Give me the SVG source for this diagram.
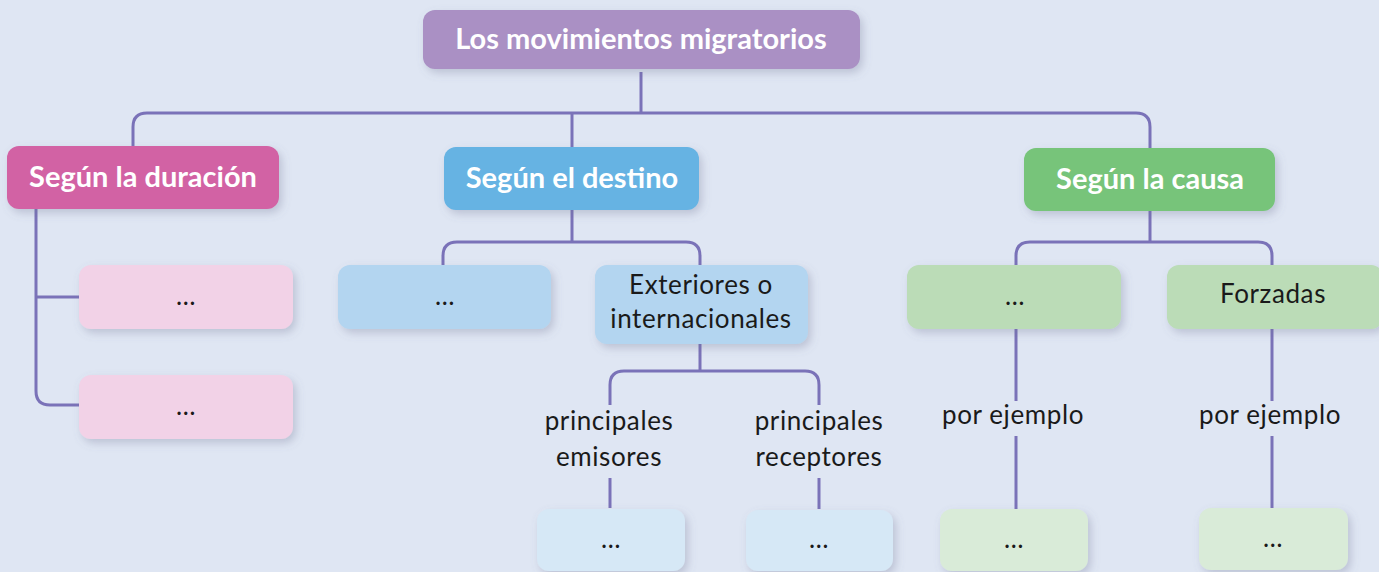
<svg xmlns="http://www.w3.org/2000/svg" width="1379" height="572" viewBox="0 0 1379 572">
<style>
.hd{font-family:Lato,"Open Sans",sans-serif;font-weight:bold;font-size:29px;fill:#ffffff;text-anchor:middle}
.tx{font-family:Lato,"Open Sans",sans-serif;font-size:26px;letter-spacing:0.6px;fill:#1a1a1a;text-anchor:middle}
.ln{fill:none;stroke:#7a72b8;stroke-width:3}
.sh{filter:url(#ds)}
</style>
<defs>
<filter id="ds" x="-20%" y="-30%" width="140%" height="170%">
<feDropShadow dx="3" dy="4" stdDeviation="4" flood-color="#6a7090" flood-opacity="0.3"/>
</filter>
</defs>
<rect width="1379" height="572" fill="#dfe6f3"/>
<g id="connectors">
<path class="ln" d="M641 72 V113"/>
<path class="ln" d="M133 146 V127 Q133 113 147 113 H1136 Q1150 113 1150 127 V149"/>
<path class="ln" d="M572 113 V147"/>
<path class="ln" d="M36 209 V391 Q36 405 50 405 H79"/>
<path class="ln" d="M36 297 H79"/>
<path class="ln" d="M572 210 V242"/>
<path class="ln" d="M443 265 V256 Q443 242 457 242 H686 Q700 242 700 256 V265"/>
<path class="ln" d="M700 344 V371"/>
<path class="ln" d="M610 405 V385 Q610 371 624 371 H805 Q819 371 819 385 V405"/>
<path class="ln" d="M610 478 V508"/>
<path class="ln" d="M819 478 V509"/>
<path class="ln" d="M1150 211 V242"/>
<path class="ln" d="M1016 265 V256 Q1016 242 1030 242 H1258 Q1272 242 1272 256 V265"/>
<path class="ln" d="M1016 329 V401"/>
<path class="ln" d="M1016 436 V509"/>
<path class="ln" d="M1272 329 V401"/>
<path class="ln" d="M1272 436 V508"/>
</g>
<g id="n-root"><rect class="sh" x="423" y="10" width="437" height="59" rx="12" fill="#aa90c4"/><text class="hd" x="641" y="49">Los movimientos migratorios</text></g>
<g id="n-duracion"><rect class="sh" x="7" y="146" width="272" height="63" rx="12" fill="#d262a4"/><text class="hd" x="143" y="187">Según la duración</text></g>
<g id="n-destino"><rect class="sh" x="444" y="147" width="255" height="63" rx="12" fill="#66b3e3"/><text class="hd" x="572" y="188">Según el destino</text></g>
<g id="n-causa"><rect class="sh" x="1024" y="148" width="251" height="63" rx="12" fill="#77c47a"/><text class="hd" x="1150" y="189">Según la causa</text></g>
<g id="n-dur1"><rect class="sh" x="79" y="265" width="214" height="64" rx="12" fill="#f2d2e7"/><text class="tx" x="186" y="305">…</text></g>
<g id="n-dur2"><rect class="sh" x="79" y="375" width="214" height="64" rx="12" fill="#f2d2e7"/><text class="tx" x="186" y="415">…</text></g>
<g id="n-des1"><rect class="sh" x="338" y="265" width="213" height="64" rx="12" fill="#b3d5f0"/><text class="tx" x="445" y="305">…</text></g>
<g id="n-des2"><rect class="sh" x="595" y="265" width="213" height="79" rx="12" fill="#b3d5f0"/><text class="tx" x="701" y="294">Exteriores o</text><text class="tx" x="701" y="328">internacionales</text></g>
<g id="l-emisores"><text class="tx" x="609" y="430">principales</text><text class="tx" x="609" y="466">emisores</text></g>
<g id="l-receptores"><text class="tx" x="819" y="430">principales</text><text class="tx" x="819" y="466">receptores</text></g>
<g id="n-emi"><rect class="sh" x="537" y="509" width="148" height="62" rx="12" fill="#d6e8f6"/><text class="tx" x="611" y="548">…</text></g>
<g id="n-rec"><rect class="sh" x="746" y="510" width="147" height="61" rx="12" fill="#d6e8f6"/><text class="tx" x="819" y="548">…</text></g>
<g id="n-cau1"><rect class="sh" x="907" y="265" width="214" height="64" rx="12" fill="#bbdcb7"/><text class="tx" x="1015" y="305">…</text></g>
<g id="n-forzadas"><rect class="sh" x="1167" y="265" width="216" height="64" rx="12" fill="#bbdcb7"/><text class="tx" x="1273" y="303">Forzadas</text></g>
<g id="l-ej1"><text class="tx" x="1013" y="424">por ejemplo</text></g>
<g id="l-ej2"><text class="tx" x="1270" y="424">por ejemplo</text></g>
<g id="n-cau1b"><rect class="sh" x="940" y="509" width="148" height="62" rx="12" fill="#d9ebd8"/><text class="tx" x="1014" y="548">…</text></g>
<g id="n-forzb"><rect class="sh" x="1199" y="508" width="149" height="62" rx="12" fill="#d9ebd8"/><text class="tx" x="1273" y="547">…</text></g>
</svg>
